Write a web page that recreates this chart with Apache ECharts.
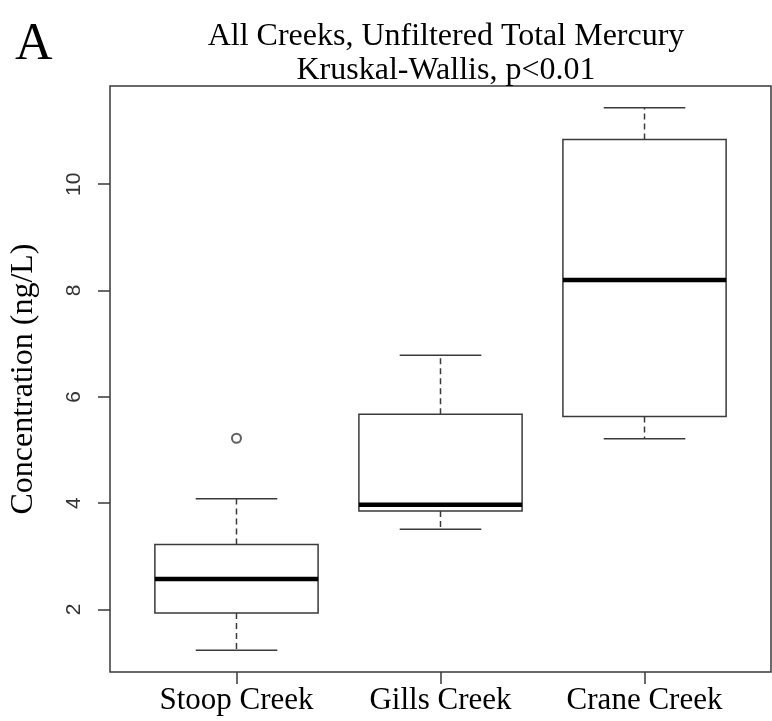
<!DOCTYPE html>
<html>
<head>
<meta charset="utf-8">
<script src="https://cdn.jsdelivr.net/npm/echarts@6/dist/echarts.min.js"></script>
<style>
  html, body { margin: 0; padding: 0; background: #fff; }
  #chart { width: 772px; height: 721px; }
</style>
</head>
<body>
<div id="chart"></div>
<script>
// Unfiltered total mercury by creek (ng/L): box-and-whisker summaries
const creeks = ['Stoop Creek', 'Gills Creek', 'Crane Creek'];
const whiskerLow = [1.23, 3.51, 5.21];
const q1 = [1.93, 3.85, 5.63];
const median = [2.57, 3.97, 8.20];
const q3 = [3.22, 5.67, 10.84];
const whiskerHigh = [4.08, 6.78, 11.44];
// outliers as [creek position, value]
const outliers = [[1, 5.22]];
const yTicks = [2, 4, 6, 8, 10];
const xTicks = [1, 2, 3];

// Axis limits: data range padded by 4% on each side
const allVals = whiskerLow.concat(whiskerHigh, outliers.map(o => o[1]));
const dMin = Math.min(...allVals), dMax = Math.max(...allVals);
const yPad = (dMax - dMin) * 0.04;
const xPad = 3 * 0.04;

const boxData = creeks.map((c, i) => [i + 1, whiskerLow[i], q1[i], median[i], q3[i], whiskerHigh[i]]);

const lineCol = '#3a3a3a';
const serif = '"Liberation Serif", "Times New Roman", serif';

function renderBox(params, api) {
  const x = api.value(0);
  const lo = api.value(1), b1 = api.value(2), md = api.value(3), b3 = api.value(4), hi = api.value(5);
  const halfBox = 0.4, halfCap = 0.2;
  const p = (vx, vy) => api.coord([vx, vy]);
  const pLo = p(x, lo), pB1 = p(x, b1), pB3 = p(x, b3), pHi = p(x, hi);
  const tl = p(x - halfBox, b3), br = p(x + halfBox, b1);
  const mL = p(x - halfBox, md), mR = p(x + halfBox, md);
  const cL1 = p(x - halfCap, lo), cR1 = p(x + halfCap, lo);
  const cL2 = p(x - halfCap, hi), cR2 = p(x + halfCap, hi);
  const solid = { stroke: lineCol, lineWidth: 1.5, fill: null };
  const dashed = { stroke: lineCol, lineWidth: 1.5, lineDash: [6, 4] };
  return {
    type: 'group',
    children: [
      { type: 'line', shape: { x1: pB3[0], y1: pB3[1], x2: pHi[0], y2: pHi[1] }, style: dashed },
      { type: 'line', shape: { x1: pB1[0], y1: pB1[1], x2: pLo[0], y2: pLo[1] }, style: dashed },
      { type: 'line', shape: { x1: cL1[0], y1: cL1[1], x2: cR1[0], y2: cR1[1] }, style: solid },
      { type: 'line', shape: { x1: cL2[0], y1: cL2[1], x2: cR2[0], y2: cR2[1] }, style: solid },
      { type: 'rect', shape: { x: tl[0], y: tl[1], width: br[0] - tl[0], height: br[1] - tl[1] },
        style: { stroke: lineCol, lineWidth: 1.5, fill: '#fff' } },
      { type: 'line', shape: { x1: mL[0], y1: mL[1], x2: mR[0], y2: mR[1] },
        style: { stroke: '#000', lineWidth: 4.5 } }
    ]
  };
}

const chart = echarts.init(document.getElementById('chart'), null, { renderer: 'canvas' });
chart.setOption({
  backgroundColor: '#fff',
  animation: false,
  title: [
    {
      text: 'All Creeks, Unfiltered Total Mercury\nKruskal-Wallis, p<0.01',
      left: 441, top: 15, textAlign: 'center',
      textStyle: { fontFamily: serif, fontSize: 32, fontWeight: 'normal', color: '#000', lineHeight: 34 }
    },
    {
      text: 'A', left: 10, top: 14,
      textStyle: { fontFamily: serif, fontSize: 52, fontWeight: 'normal', color: '#000' }
    }
  ],
  grid: {
    left: 110, right: 1, top: 86, bottom: 49,
    outerBoundsMode: 'none', containLabel: false,
    show: true, borderColor: lineCol, borderWidth: 1.5, backgroundColor: 'transparent'
  },
  xAxis: {
    type: 'value',
    min: 1 - 0.5 - xPad, max: 3 + 0.5 + xPad,
    splitLine: { show: false },
    axisLine: { show: false },
    axisTick: { show: true, length: 12, customValues: xTicks, lineStyle: { color: lineCol, width: 1.5 } },
    axisLabel: {
      show: true, customValues: xTicks, margin: 13,
      formatter: v => creeks[Math.round(v) - 1] || '',
      fontFamily: serif, fontSize: 31, color: '#000'
    }
  },
  yAxis: {
    type: 'value',
    min: dMin - yPad, max: dMax + yPad,
    name: 'Concentration (ng/L)',
    nameLocation: 'middle', nameRotate: 90, nameGap: 70,
    nameTextStyle: { fontFamily: serif, fontSize: 32, color: '#000' },
    splitLine: { show: false },
    axisLine: { show: false },
    axisTick: { show: true, length: 12, customValues: yTicks, lineStyle: { color: lineCol, width: 1.5 } },
    axisLabel: {
      show: true, customValues: yTicks, rotate: 90, margin: 25,
      fontFamily: '"Liberation Sans", Arial, sans-serif', fontSize: 21, color: '#333'
    }
  },
  series: [
    {
      type: 'custom',
      renderItem: renderBox,
      data: boxData,
      encode: { x: 0, y: [1, 2, 3, 4, 5] },
      z: 2
    },
    {
      type: 'scatter',
      data: outliers,
      symbol: 'emptyCircle',
      symbolSize: 9,
      itemStyle: { color: lineCol, borderColor: lineCol, borderWidth: 1.5 },
      z: 3
    }
  ]
});
</script>
</body>
</html>
